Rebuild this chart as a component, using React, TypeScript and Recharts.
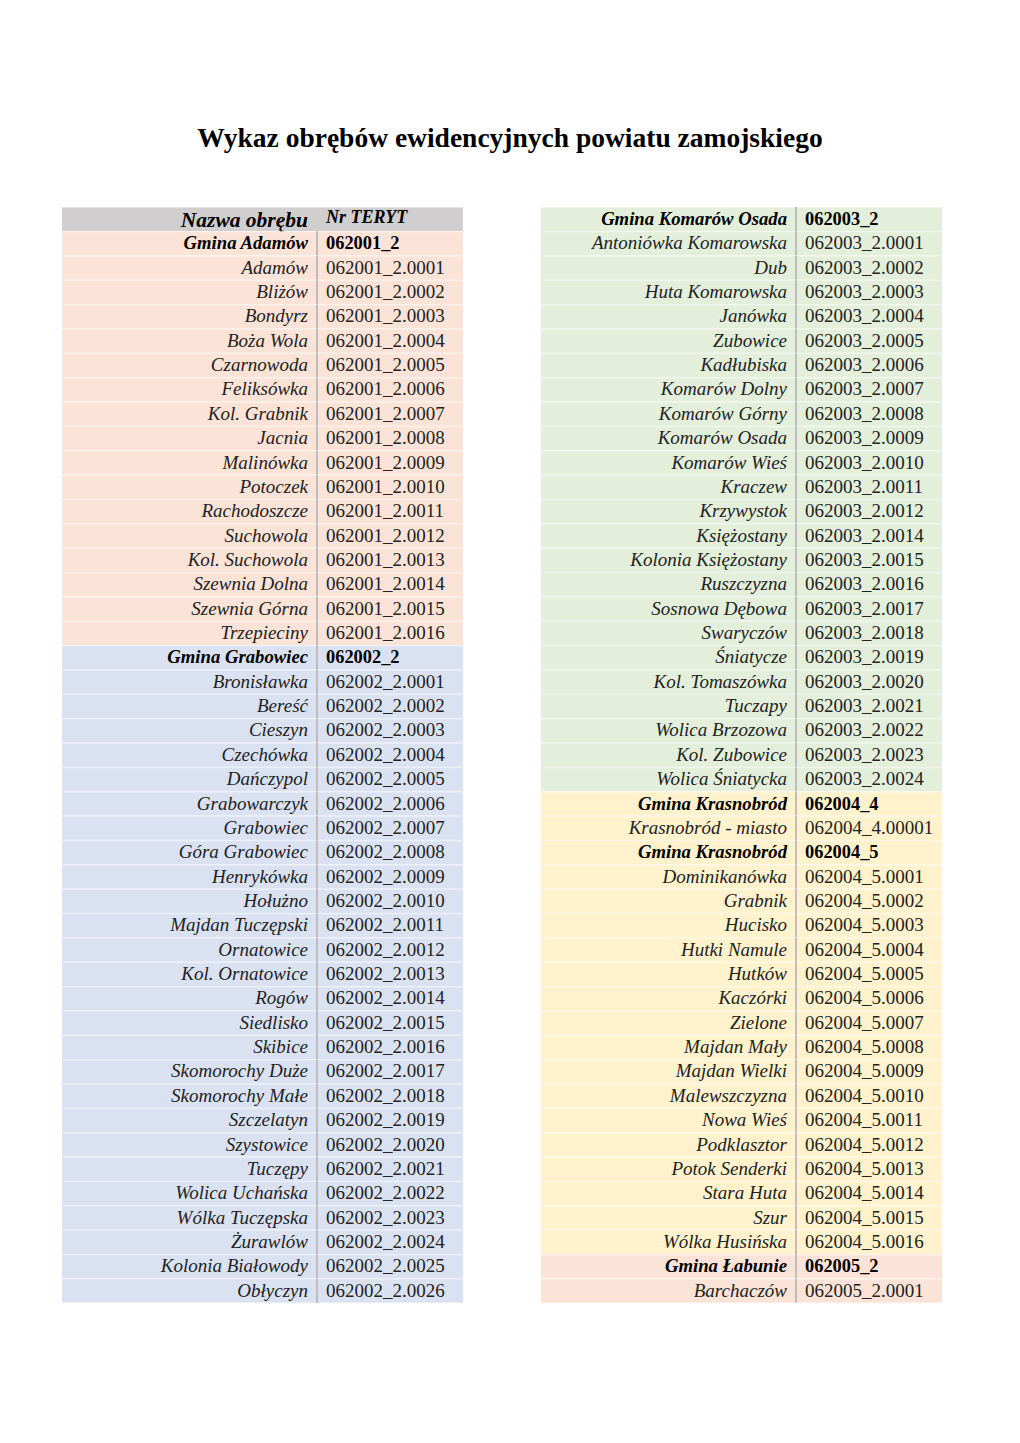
import { Bar, BarChart, XAxis, YAxis } from 'recharts';

type Entry = [string, string];

const gminaAdamow: Entry = ['Gmina Adamów', '062001_2'];
const obrebyAdamow: Entry[] = [
  ['Adamów', '062001_2.0001'],
  ['Bliżów', '062001_2.0002'],
  ['Bondyrz', '062001_2.0003'],
  ['Boża Wola', '062001_2.0004'],
  ['Czarnowoda', '062001_2.0005'],
  ['Feliksówka', '062001_2.0006'],
  ['Kol. Grabnik', '062001_2.0007'],
  ['Jacnia', '062001_2.0008'],
  ['Malinówka', '062001_2.0009'],
  ['Potoczek', '062001_2.0010'],
  ['Rachodoszcze', '062001_2.0011'],
  ['Suchowola', '062001_2.0012'],
  ['Kol. Suchowola', '062001_2.0013'],
  ['Szewnia Dolna', '062001_2.0014'],
  ['Szewnia Górna', '062001_2.0015'],
  ['Trzepieciny', '062001_2.0016'],
];

const gminaGrabowiec: Entry = ['Gmina Grabowiec', '062002_2'];
const obrebyGrabowiec: Entry[] = [
  ['Bronisławka', '062002_2.0001'],
  ['Bereść', '062002_2.0002'],
  ['Cieszyn', '062002_2.0003'],
  ['Czechówka', '062002_2.0004'],
  ['Dańczypol', '062002_2.0005'],
  ['Grabowarczyk', '062002_2.0006'],
  ['Grabowiec', '062002_2.0007'],
  ['Góra Grabowiec', '062002_2.0008'],
  ['Henrykówka', '062002_2.0009'],
  ['Hołużno', '062002_2.0010'],
  ['Majdan Tuczępski', '062002_2.0011'],
  ['Ornatowice', '062002_2.0012'],
  ['Kol. Ornatowice', '062002_2.0013'],
  ['Rogów', '062002_2.0014'],
  ['Siedlisko', '062002_2.0015'],
  ['Skibice', '062002_2.0016'],
  ['Skomorochy Duże', '062002_2.0017'],
  ['Skomorochy Małe', '062002_2.0018'],
  ['Szczelatyn', '062002_2.0019'],
  ['Szystowice', '062002_2.0020'],
  ['Tuczępy', '062002_2.0021'],
  ['Wolica Uchańska', '062002_2.0022'],
  ['Wólka Tuczępska', '062002_2.0023'],
  ['Żurawlów', '062002_2.0024'],
  ['Kolonia Białowody', '062002_2.0025'],
  ['Obłyczyn', '062002_2.0026'],
];

const gminaKomarow: Entry = ['Gmina Komarów Osada', '062003_2'];
const obrebyKomarow: Entry[] = [
  ['Antoniówka Komarowska', '062003_2.0001'],
  ['Dub', '062003_2.0002'],
  ['Huta Komarowska', '062003_2.0003'],
  ['Janówka', '062003_2.0004'],
  ['Zubowice', '062003_2.0005'],
  ['Kadłubiska', '062003_2.0006'],
  ['Komarów Dolny', '062003_2.0007'],
  ['Komarów Górny', '062003_2.0008'],
  ['Komarów Osada', '062003_2.0009'],
  ['Komarów Wieś', '062003_2.0010'],
  ['Kraczew', '062003_2.0011'],
  ['Krzywystok', '062003_2.0012'],
  ['Księżostany', '062003_2.0014'],
  ['Kolonia Księżostany', '062003_2.0015'],
  ['Ruszczyzna', '062003_2.0016'],
  ['Sosnowa Dębowa', '062003_2.0017'],
  ['Swaryczów', '062003_2.0018'],
  ['Śniatycze', '062003_2.0019'],
  ['Kol. Tomaszówka', '062003_2.0020'],
  ['Tuczapy', '062003_2.0021'],
  ['Wolica Brzozowa', '062003_2.0022'],
  ['Kol. Zubowice', '062003_2.0023'],
  ['Wolica Śniatycka', '062003_2.0024'],
];

const gminaKrasnobrodMiasto: Entry = ['Gmina Krasnobród', '062004_4'];
const obrebyKrasnobrodMiasto: Entry[] = [['Krasnobród  - miasto', '062004_4.00001']];

const gminaKrasnobrod: Entry = ['Gmina Krasnobród', '062004_5'];
const obrebyKrasnobrod: Entry[] = [
  ['Dominikanówka', '062004_5.0001'],
  ['Grabnik', '062004_5.0002'],
  ['Hucisko', '062004_5.0003'],
  ['Hutki Namule', '062004_5.0004'],
  ['Hutków', '062004_5.0005'],
  ['Kaczórki', '062004_5.0006'],
  ['Zielone', '062004_5.0007'],
  ['Majdan Mały', '062004_5.0008'],
  ['Majdan Wielki', '062004_5.0009'],
  ['Malewszczyzna', '062004_5.0010'],
  ['Nowa Wieś', '062004_5.0011'],
  ['Podklasztor', '062004_5.0012'],
  ['Potok Senderki', '062004_5.0013'],
  ['Stara Huta', '062004_5.0014'],
  ['Szur', '062004_5.0015'],
  ['Wólka Husińska', '062004_5.0016'],
];

const gminaLabunie: Entry = ['Gmina Łabunie', '062005_2'];
const obrebyLabunie: Entry[] = [['Barchaczów', '062005_2.0001']];

const naglowek: Entry = ['Nazwa obrębu', 'Nr TERYT'];

// --- wygląd ---
const FONT = '"Liberation Serif", "Times New Roman", serif';
const C_HEAD = '#d0cece';
const C_PEACH = '#fbe3d7';
const C_BLUE = '#dae2f2';
const C_GREEN = '#e3efdb';
const C_YELLOW = '#fff2cd';
const NAME_W = 255;
const CODE_W = 146;
const TABLE_W = NAME_W + CODE_W;
const TABLE_H = 1096;

type Row = { key: string; kind: 'head' | 'gmina' | 'item'; name: string; code: string; fill: string };

let seq = 0;
const group = (head: Entry, items: Entry[], fill: string): Row[] => [
  { key: `r${seq++}`, kind: 'gmina', name: head[0], code: head[1], fill },
  ...items.map(([name, code]) => ({ key: `r${seq++}`, kind: 'item' as const, name, code, fill })),
];

const leftRows: Row[] = [
  { key: `r${seq++}`, kind: 'head', name: naglowek[0], code: naglowek[1], fill: C_HEAD },
  ...group(gminaAdamow, obrebyAdamow, C_PEACH),
  ...group(gminaGrabowiec, obrebyGrabowiec, C_BLUE),
];

const rightRows: Row[] = [
  ...group(gminaKomarow, obrebyKomarow, C_GREEN),
  ...group(gminaKrasnobrodMiasto, obrebyKrasnobrodMiasto, C_YELLOW),
  ...group(gminaKrasnobrod, obrebyKrasnobrod, C_YELLOW),
  ...group(gminaLabunie, obrebyLabunie, C_PEACH),
];

function NameCell(props: any) {
  const { x, y, width, height, payload } = props;
  const row = payload as Row;
  const head = row.kind === 'head';
  const bold = row.kind !== 'item';
  return (
    <g>
      <rect x={x} y={y} width={width} height={height} fill={row.fill} />
      <line x1={x} x2={x + width} y1={y + 0.5} y2={y + 0.5} stroke="#ffffff" strokeOpacity={0.45} />
      <text
        x={x + width - 9}
        y={y + height - (head ? 4 : 6)}
        textAnchor="end"
        fontFamily={FONT}
        fontStyle="italic"
        fontWeight={bold ? 700 : 400}
        fontSize={head ? 21.5 : bold ? 18.7 : 19}
        fill={bold ? '#000' : '#222'}
      >
        {row.name}
      </text>
    </g>
  );
}

function CodeCell(props: any) {
  const { x, y, width, height, payload } = props;
  const row = payload as Row;
  const head = row.kind === 'head';
  const bold = row.kind !== 'item';
  return (
    <g>
      <rect x={x} y={y} width={width} height={height} fill={row.fill} />
      <line x1={x} x2={x + width} y1={y + 0.5} y2={y + 0.5} stroke="#ffffff" strokeOpacity={0.45} />
      {!head && <line x1={x} x2={x} y1={y} y2={y + height} stroke="#bdbdbd" strokeWidth={2} />}
      <text
        x={x + 9}
        y={y + height - (head ? 8 : 6)}
        fontFamily={FONT}
        fontStyle={head ? 'italic' : 'normal'}
        fontWeight={bold ? 700 : 400}
        fontSize={head ? 18 : bold ? 18.4 : 19}
        fill={bold ? '#000' : '#222'}
      >
        {row.code}
      </text>
    </g>
  );
}

function Table({ rows, left, top }: { rows: Row[]; left: number; top: number }) {
  return (
    <div style={{ position: 'absolute', left, top }}>
      <BarChart
        width={TABLE_W}
        height={TABLE_H}
        data={rows}
        layout="vertical"
        margin={{ top: 0, right: 0, bottom: 0, left: 0 }}
        barCategoryGap={0}
        barGap={0}
      >
        <XAxis type="number" hide domain={[0, TABLE_W]} />
        <YAxis type="category" dataKey="key" hide />
        <Bar dataKey={() => NAME_W} stackId="t" shape={NameCell} isAnimationActive={false} />
        <Bar dataKey={() => CODE_W} stackId="t" shape={CodeCell} isAnimationActive={false} />
      </BarChart>
    </div>
  );
}

export default function App() {
  return (
    <div style={{ position: 'absolute', left: 0, top: 0, width: 1020, height: 1443, background: '#fff' }}>
      <div
        style={{
          position: 'absolute',
          top: 123,
          left: 0,
          width: 1020,
          textAlign: 'center',
          fontFamily: FONT,
          fontWeight: 700,
          fontSize: 27.5,
          lineHeight: '30px',
          color: '#000',
        }}
      >
        Wykaz obrębów ewidencyjnych powiatu zamojskiego
      </div>
      <Table rows={leftRows} left={62} top={207} />
      <Table rows={rightRows} left={541} top={207} />
    </div>
  );
}
